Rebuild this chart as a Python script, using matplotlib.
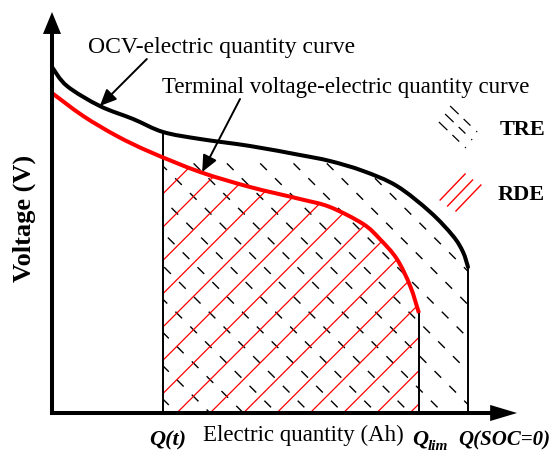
import numpy as np
import matplotlib
matplotlib.use('Agg')
import matplotlib.pyplot as plt
from matplotlib.patches import Polygon, PathPatch
from matplotlib.path import Path

plt.rcParams['font.family'] = ['Liberation Serif', 'DejaVu Serif']
plt.rcParams['lines.scale_dashes'] = False

# ---- data (schematic units: electric quantity 0..100, voltage 0..100) ----
OCV_Q = [0, 3.6, 11.5, 19.5, 26.7, 35.6, 47.6, 59.6, 66.8, 74.8, 82.9, 90.9, 96.4, 98.8, 100]
OCV_V = [86.5, 81.75, 76.75, 73.5, 70.25, 68.5, 66.75, 64.5, 63, 60.5, 56.75, 50.25, 44.25, 40.25, 36.5]
TV_Q = [0, 7.5, 15.6, 23.6, 35.6, 47.6, 59.6, 66.8, 74.8, 78.8, 82.9, 86.1, 88.2]
TV_V = [80, 74.25, 69.25, 65.25, 60.25, 56.5, 53.5, 51.5, 47.25, 43.5, 38.5, 31.75, 25]
Q_T = 26.7
Q_LIM = 88.2
Q_SOC0 = 100.0
X_TIP = 111.8
Y_TIP = 100.25

OCV_LABEL = "OCV-electric quantity curve"
TV_LABEL = "Terminal voltage-electric quantity curve"
LEGEND_LABELS = ["TRE", "RDE"]

PX_X, PX_Y = 4.16, 4.0          # pixels per data unit
SLOPE = PX_X / PX_Y             # 45 degrees on screen
HATCH_STEP = 33.3 / PX_X


def smooth_path(xs, ys):
    """Catmull-Rom through the knots, drawn as cubic Bezier segments."""
    p = np.column_stack([xs, ys]).astype(float)
    ext = np.vstack([p[0], p, p[-1]])
    verts = [p[0]]
    codes = [Path.MOVETO]
    for i in range(len(p) - 1):
        p0, p1, p2, p3 = ext[i], ext[i + 1], ext[i + 2], ext[i + 3]
        c1 = p1 + (p2 - p0) / 6.0
        c2 = p2 - (p3 - p1) / 6.0
        verts += [c1, c2, p2]
        codes += [Path.CURVE4] * 3
    return Path(np.array(verts), codes)


fig = plt.figure(figsize=(5.53, 4.52), dpi=100)
ax = fig.add_axes([0, 0, 1, 1])
ax.set_xlim(-52 / PX_X, (553 - 52) / PX_X)
ax.set_ylim(-(452 - 414) / PX_Y, 414 / PX_Y)
ax.axis('off')

ocv_path = smooth_path(OCV_Q, OCV_V)
tv_path = smooth_path(TV_Q, TV_V)
ocv_flat = ocv_path.to_polygons(closed_only=False)[0]
tv_flat = tv_path.to_polygons(closed_only=False)[0]


def region(flat, q_end):
    fx, fy = flat[:, 0], flat[:, 1]
    top = np.interp(Q_T, fx, fy)
    m = fx > Q_T
    return [(Q_T, 0), (Q_T, top)] + list(zip(fx[m], fy[m])) + [(q_end, 0)], top


tre_verts, ocv_at_t = region(ocv_flat, Q_SOC0)
rde_verts, tv_at_t = region(tv_flat, Q_LIM)
tre_patch = Polygon(tre_verts, closed=True, transform=ax.transData)
rde_patch = Polygon(rde_verts, closed=True, transform=ax.transData)

x0_start = 30.0
for k in range(-20, 20):
    x0 = x0_start + k * HATCH_STEP
    xs = np.array([x0 - 60, x0 + 160])
    # TRE: dashed black "\"
    l, = ax.plot(xs, -(xs - x0) * SLOPE, color='black', lw=1.0,
                 linestyle=(0, (6.8, 8.3)), zorder=2)
    l.set_clip_path(tre_patch)
    # RDE: red "/"
    l, = ax.plot(xs, (xs - x0) * SLOPE, color='#ff0000', lw=0.9, zorder=2.5)
    l.set_clip_path(rde_patch)

# vertical boundaries
ax.plot([Q_T, Q_T], [0, ocv_at_t], color='black', lw=1.4, zorder=3)
ax.plot([Q_LIM, Q_LIM], [0, TV_V[-1]], color='black', lw=1.4, zorder=3)
ax.plot([Q_SOC0, Q_SOC0], [0, OCV_V[-1]], color='black', lw=1.4, zorder=3)

# curves
ax.add_patch(PathPatch(ocv_path, fill=False, edgecolor='black', lw=2.9,
                       capstyle='round', joinstyle='round', zorder=4))
ax.add_patch(PathPatch(tv_path, fill=False, edgecolor='#ff0000', lw=2.9,
                       capstyle='butt', joinstyle='round', zorder=4))

# axes with arrows
ax.plot([0, 0], [0, Y_TIP - 3], color='black', lw=2.9, solid_capstyle='projecting', zorder=5)
ax.plot([0, X_TIP - 3], [0, 0], color='black', lw=2.9, solid_capstyle='projecting', zorder=5)
ax.annotate('', xy=(0, Y_TIP), xytext=(0, Y_TIP - 8),
            arrowprops=dict(arrowstyle='-|>,head_length=1.58,head_width=0.65',
                            mutation_scale=10, color='black', lw=0, shrinkA=0, shrinkB=0), zorder=6)
ax.annotate('', xy=(X_TIP, 0), xytext=(X_TIP - 8, 0),
            arrowprops=dict(arrowstyle='-|>,head_length=1.94,head_width=0.58',
                            mutation_scale=10, color='black', lw=0, shrinkA=0, shrinkB=0), zorder=6)

# curve labels with arrows
ax.text(8.65, 90.25, OCV_LABEL, fontsize=17, ha='left', va='baseline')
ax.text(26.4, 80.25, TV_LABEL, fontsize=16.5, ha='left', va='baseline')
ax.annotate('', xy=(11.5, 76.75), xytext=(22.8, 88.5),
            arrowprops=dict(arrowstyle='-|>,head_length=1.0,head_width=0.45',
                            mutation_scale=10, color='black', lw=1.4, shrinkA=0, shrinkB=0), zorder=6)
ax.annotate('', xy=(36.1, 60.25), xytext=(45.2, 78.5),
            arrowprops=dict(arrowstyle='-|>,head_length=1.0,head_width=0.45',
                            mutation_scale=10, color='black', lw=1.4, shrinkA=0, shrinkB=0), zorder=6)

# legend samples
for dx, dy in [(0, 0), (-1.2, -2.0), (-2.7, -4.0)]:
    ax.plot([95.7 + dx, 102.2 + dx], [76.75 + dy, 70.25 + dy], color='black', lw=0.9,
            linestyle=(0, (8.5, 5, 6.8, 5.8, 1, 20)))
for dx, dy in [(0, 0), (1.8, -1.5), (3.8, -2.75)]:
    ax.plot([93.3 + dx, 99.3 + dx], [53.25 + dy, 59.75 + dy], color='#ff0000', lw=1.0)
ax.text(107.7, 71.0, LEGEND_LABELS[0], fontsize=16, fontweight='bold', ha='left', va='center')
ax.text(107.0, 54.75, LEGEND_LABELS[1], fontsize=16, fontweight='bold', ha='left', va='center')

# axis labels
ax.text(-6.7, 49.0, "Voltage (V)", fontsize=19, fontweight='bold', rotation=90,
        ha='center', va='center')
ax.text(36.3, -6.75, "Electric quantity (Ah)", fontsize=16.5, ha='left', va='baseline')
ax.text(Q_T + 1.2, -7.75, "Q(t)", fontsize=16, fontweight='bold', style='italic',
        ha='center', va='baseline')
ax.text(86.5, -7.75, "Q", fontsize=16, fontweight='bold', style='italic', ha='left', va='baseline')
ax.text(90.4, -8.9, "lim", fontsize=11, fontweight='bold', style='italic', ha='left', va='baseline')
ax.text(97.6, -7.75, "Q(SOC=0)", fontsize=15, fontweight='bold', style='italic',
        ha='left', va='baseline')

fig.savefig('out.png', dpi=100)
